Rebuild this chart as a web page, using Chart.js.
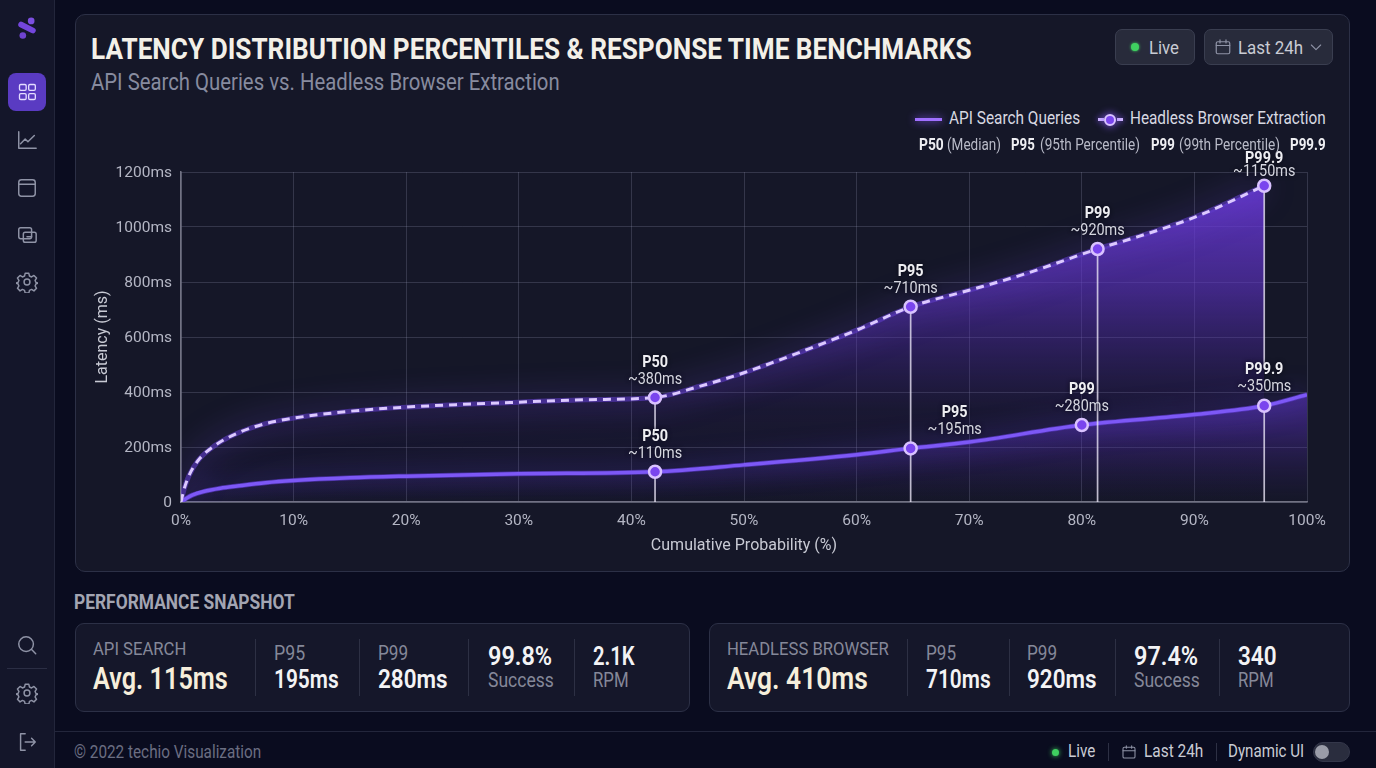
<!DOCTYPE html>
<html>
<head>
<meta charset="utf-8">
<title>Latency Distribution</title>
<script src="https://cdn.jsdelivr.net/npm/chart.js@4"></script>
<style>
  html, body { margin: 0; width: 1376px; height: 768px; overflow: hidden; background: #0a0c1f; font-family: Roboto, sans-serif; }
  .box { position: absolute; box-sizing: border-box; }
  .t { position: absolute; white-space: nowrap; transform-origin: 0 50%; line-height: 1; }
  svg.i { position: absolute; fill: none; stroke: #8f93a6; stroke-width: 1.6; stroke-linecap: round; stroke-linejoin: round; }
  #sidebar { left: 0; top: 0; width: 55px; height: 768px; background: #14162a; border-right: 1px solid #23263b; }
  #panel { left: 75px; top: 14px; width: 1275px; height: 558px; background: #151728; border: 1px solid #2c3046; border-radius: 10px; }
  .card { top: 623px; height: 89px; background: #15172a; border: 1px solid #2c3046; border-radius: 9px; }
  .btn { top: 29px; height: 36px; background: #282b3b; border: 1px solid #3a3e50; border-radius: 7px; }
  .rule { position: absolute; background: #2d3044; width: 1px; }
  #chart-wrap { position: absolute; left: 76px; top: 150px; width: 1272px; height: 420px; }
</style>
</head>
<body>
<div class="box" id="sidebar"></div>
<div class="box" id="panel"></div>
<div class="box card" style="left:75px;width:615px"></div>
<div class="box card" style="left:709px;width:641px"></div>
<div class="box btn" style="left:1115px;width:80px"></div>
<div class="box btn" style="left:1204px;width:129px"></div>
<div class="box" style="left:8px;top:73px;width:38px;height:38px;background:#5a3bc2;border-radius:8px"></div>
<div class="box" style="left:7px;top:668px;width:40px;height:1px;background:#2b2e44"></div>
<div class="box" style="left:55px;top:731px;width:1321px;height:1px;background:#23263b"></div>
<div id="chart-wrap"><canvas id="latency-chart" width="1272" height="420"></canvas></div>
<div id="overlay"></div>

<script>
"use strict";

// percentile curves, x in cumulative %, y in ms
const apiX = [0, 0.5, 1, 2, 3.5, 5, 7.5, 10, 15, 20, 30, 42.1, 50, 60, 64.8, 70, 80, 90, 96.2, 100];
const apiY = [0, 14, 25, 38, 50, 58, 70, 78, 88, 94, 103, 110, 135, 172, 195, 218, 280, 318, 350, 390];
const headlessX = [0, 0.3, 0.7, 1.5, 3, 5, 7.5, 10, 15, 20, 25, 30, 36, 42.1, 46, 50, 55, 60, 64.8, 70, 75, 81.4, 85, 90, 96.2];
const headlessY = [0, 50, 95, 150, 205, 250, 285, 305, 330, 345, 355, 363, 372, 380, 420, 470, 545, 625, 710, 770, 830, 920, 965, 1035, 1150];

// labelled percentile marks
const apiMarkX = [42.1, 64.8, 80, 96.2];
const apiMarkY = [110, 195, 280, 350];
const apiMarkNames = ["P50", "P95", "P99", "P99.9"];
const headlessMarkX = [42.1, 64.8, 81.4, 96.2];
const headlessMarkY = [380, 710, 920, 1150];
const headlessMarkNames = ["P50", "P95", "P99", "P99.9"];

// vertical drop lines: x, from ms, to ms
const stemX = [42.1, 42.1, 64.8, 81.4, 96.2, 96.2];
const stemFrom = [0, 265, 0, 0, 0, 500];
const stemTo = [110, 380, 710, 920, 350, 1150];

const xTickValues = [0, 10, 20, 30, 40, 50, 60, 70, 80, 90, 100];
const yTickValues = [0, 200, 400, 600, 800, 1000, 1200];

const pts = (xs, ys) => xs.map((x, i) => ({ x, y: ys[i] }));

const overlay = document.getElementById("overlay");

// absolutely placed text, squeezed to a given width when one is passed
function put(x, y, text, size, color, weight, width) {
  const s = document.createElement("span");
  s.className = "t";
  s.textContent = text;
  s.style.cssText = `left:${x}px;top:${y}px;font-size:${size}px;color:${color};font-weight:${weight || 400}`;
  overlay.appendChild(s);
  const k = width ? width / s.offsetWidth : 1;
  s.style.transform = `translateY(-50%) scaleX(${k})`;
}

function icon(x, y, size, body, extra) {
  overlay.insertAdjacentHTML("beforeend",
    `<svg class="i" style="left:${x}px;top:${y}px;${extra || ""}" width="${size}" height="${size}" viewBox="0 0 24 24">${body}</svg>`);
}
function rule(x, y, h) {
  overlay.insertAdjacentHTML("beforeend", `<div class="rule" style="left:${x}px;top:${y}px;height:${h}px"></div>`);
}
function dot(x, y, r, color, glow) {
  overlay.insertAdjacentHTML("beforeend",
    `<div style="position:absolute;left:${x - r}px;top:${y - r}px;width:${2 * r}px;height:${2 * r}px;border-radius:50%;background:${color};box-shadow:0 0 ${glow}px ${color}"></div>`);
}

const calendar = '<rect x="3" y="5" width="18" height="16" rx="2"/><path d="M3 10h18M8 2.5v4M16 2.5v4"/>';
const gear = '<circle cx="12" cy="12" r="3.2"/><path d="M10 2.5h4l.7 3 2.3 1 2.6-1.6 2.8 2.8-1.6 2.6 1 2.3 3 .7v0l-3 .7-1 2.3 1.6 2.6-2.8 2.8-2.6-1.6-2.3 1-.7 3h-4l-.7-3-2.3-1-2.6 1.6-2.8-2.8 1.6-2.6-1-2.3-3-.7v-0l3-.7 1-2.3-1.6-2.6 2.8-2.8 2.6 1.6 2.3-1z"/>';

// sidebar
overlay.insertAdjacentHTML("beforeend",
  `<svg style="position:absolute;left:17px;top:15px" width="20" height="26" viewBox="0 0 24 28">
     <circle cx="17" cy="5.5" r="4" fill="#7c4fe0"/><circle cx="7" cy="23" r="4" fill="#6f43d0"/>
     <path d="M5 10 L19 17" stroke="#7446dc" stroke-width="7" stroke-linecap="round"/></svg>`);
icon(17, 82, 20, '<rect x="3" y="3" width="8" height="7" rx="1.5"/><rect x="14" y="3" width="8" height="7" rx="1.5"/><rect x="3" y="14" width="8" height="7" rx="1.5"/><rect x="14" y="14" width="8" height="7" rx="1.5"/>', "stroke:#e4dcff;");
icon(16, 129, 22, '<path d="M3 3v18h19M5 16l5-5 3 3 7-7"/>');
icon(16, 177, 22, '<rect x="3" y="3" width="18" height="18" rx="3"/><path d="M3 8h18"/>');
icon(16, 224, 22, '<rect x="3" y="4" width="14" height="12" rx="2"/><rect x="8" y="9" width="14" height="11" rx="2"/><path d="M12 14h5"/>');
icon(16, 271, 22, gear);
icon(16, 634, 22, '<circle cx="11" cy="11" r="8"/><path d="M17 17l4.5 4.5"/>');
icon(16, 682, 22, gear);
icon(16, 731, 22, '<path d="M10 3H5v18h5M10 12h11M17 8l4 4-4 4"/>');

// header
put(91, 49, "LATENCY DISTRIBUTION PERCENTILES & RESPONSE TIME BENCHMARKS", 30, "#f3f0e8", 700, 881);
put(91, 82, "API Search Queries vs. Headless Browser Extraction", 24, "#878b9f", 400, 469);
dot(1135, 47, 4, "#3fd060", 3);
put(1149, 47, "Live", 19, "#c9cbd4", 400, 30);
icon(1214, 38, 18, calendar);
put(1238, 47, "Last 24h", 19, "#c9cbd4", 400, 65);
icon(1308, 39, 16, '<path d="M5 9l7 7 7-7"/>');

// legend
overlay.insertAdjacentHTML("beforeend", `
  <div style="position:absolute;left:915px;top:117.5px;width:27px;height:3px;background:#a070ff;box-shadow:0 0 8px #8a5cff"></div>
  <div style="position:absolute;left:1098px;top:118px;width:6px;height:3px;background:#cfb6ff;box-shadow:0 0 6px #8a5cff"></div>
  <div style="position:absolute;left:1117px;top:118px;width:6px;height:3px;background:#cfb6ff;box-shadow:0 0 6px #8a5cff"></div>
  <div style="position:absolute;left:1104px;top:113.5px;width:8px;height:8px;border-radius:50%;background:#7a45ee;border:2px solid #d9c2ff;box-shadow:0 0 8px #8a5cff"></div>`);
put(949, 119, "API Search Queries", 17.5, "#d8d9e2", 400, 131);
put(1130, 119, "Headless Browser Extraction", 17.5, "#d8d9e2", 400, 196);
put(919, 144.5, "P50", 16, "#eeeef2", 700, 25);
put(947, 144.5, "(Median)", 16, "#b9bbc8", 400, 54);
put(1011, 144.5, "P95", 16, "#eeeef2", 700, 24);
put(1040, 144.5, "(95th Percentile)", 16, "#b9bbc8", 400, 100);
put(1151, 144.5, "P99", 16, "#eeeef2", 700, 24);
put(1179, 144.5, "(99th Percentile)", 16, "#b9bbc8", 400, 101);
put(1290, 144.5, "P99.9", 16, "#eeeef2", 700, 36);

// snapshot cards
put(74, 602, "PERFORMANCE SNAPSHOT", 21, "#a3a5b2", 700, 221);
function card(x0, name, nameW, avg, avgW, dividers, cols) {
  put(x0, 648, name, 19, "#858899", 400, nameW);
  put(x0, 678, avg, 32, "#f6eedb", 600, avgW);
  dividers.forEach(d => rule(d, 639, 57));
  cols.forEach(c => {
    if (c.top) {
      put(c.x, 653, c.top, 20, "#858899", 400, c.topW);
      put(c.x, 679, c.main, 26, "#f3f3f5", 600, c.mainW);
    } else {
      put(c.x, 656, c.main, 26, "#f3f3f5", 600, c.mainW);
      put(c.x, 680, c.sub, 21, "#858899", 400, c.subW);
    }
  });
}
card(93, "API SEARCH", 93, "Avg. 115ms", 135, [255, 359, 468, 574], [
  { x: 274, top: "P95", topW: 31, main: "195ms", mainW: 65 },
  { x: 378, top: "P99", topW: 30, main: "280ms", mainW: 70 },
  { x: 488, main: "99.8%", mainW: 64, sub: "Success", subW: 66 },
  { x: 593, main: "2.1K", mainW: 42, sub: "RPM", subW: 36 },
]);
card(727, "HEADLESS BROWSER", 162, "Avg. 410ms", 141, [907, 1009, 1115, 1219], [
  { x: 926, top: "P95", topW: 30, main: "710ms", mainW: 65 },
  { x: 1027, top: "P99", topW: 30, main: "920ms", mainW: 70 },
  { x: 1134, main: "97.4%", mainW: 64, sub: "Success", subW: 66 },
  { x: 1238, main: "340", mainW: 39, sub: "RPM", subW: 36 },
]);

// footer
put(74, 752, "© 2022 techio Visualization", 18, "#6b6e82", 400, 187);
dot(1055, 752, 3.5, "#3fd060", 5);
put(1068, 752, "Live", 17.5, "#c9cbd4", 400, 27);
rule(1108, 743, 18);
icon(1121, 744, 16, calendar);
put(1144, 752, "Last 24h", 17.5, "#c9cbd4", 400, 59);
rule(1216, 743, 18);
put(1228, 752, "Dynamic UI", 17.5, "#c9cbd4", 400, 76);
overlay.insertAdjacentHTML("beforeend", `
  <div style="position:absolute;left:1313px;top:742px;width:37px;height:20px;border-radius:10px;background:#2a2d3e;border:1px solid #34374a;box-sizing:border-box"></div>
  <div style="position:absolute;left:1315px;top:745px;width:14px;height:14px;border-radius:50%;background:#9a9ca8"></div>`);

// fills fade with height on the canvas
function fadeFill(stops) {
  return (c) => {
    const area = c.chart.chartArea;
    if (!area) return "transparent";
    const g = c.chart.ctx.createLinearGradient(0, area.top, 0, area.bottom);
    stops.forEach(([at, color]) => g.addColorStop(at, color));
    return g;
  };
}

const glowPlugin = {
  id: "glow",
  beforeDatasetDraw(chart, args) {
    const ds = chart.data.datasets[args.index];
    if (!ds.glowColor) return;
    chart.ctx.save();
    chart.ctx.shadowColor = ds.glowColor;
    chart.ctx.shadowBlur = ds.glowBlur;
  },
  afterDatasetDraw(chart, args) {
    if (chart.data.datasets[args.index].glowColor) chart.ctx.restore();
  },
};

// two-line labels above the percentile marks; [dx, dy of name line, line gap] per mark
const apiLabelShift = [[0, -35, 17], [44, -35, 17], [0, -35, 17], [0, -36, 17]];
const headlessLabelShift = [[0, -35, 17], [0, -35, 17], [0, -35, 17], [0, -27, 13]];

function drawLabels(chart, xs, ys, names, shifts) {
  const { ctx, scales } = chart;
  xs.forEach((x, i) => {
    const px = scales.x.getPixelForValue(x) + shifts[i][0];
    const py = scales.y.getPixelForValue(ys[i]) + shifts[i][1];
    ctx.save();
    ctx.textAlign = "center";
    ctx.textBaseline = "middle";
    ctx.shadowColor = "rgba(8,8,20,.9)";
    ctx.shadowBlur = 4;
    ctx.translate(px, py);
    ctx.scale(0.9, 1);
    ctx.fillStyle = "#eeeef2";
    ctx.font = "700 16px Roboto";
    ctx.fillText(names[i], 0, 0);
    ctx.fillStyle = "#d6d7e0";
    ctx.font = "400 16px Roboto";
    ctx.fillText("~" + ys[i] + "ms", 0, shifts[i][2]);
    ctx.restore();
  });
}

const labelPlugin = {
  id: "markLabels",
  afterDatasetsDraw(chart) {
    drawLabels(chart, apiMarkX, apiMarkY, apiMarkNames, apiLabelShift);
    drawLabels(chart, headlessMarkX, headlessMarkY, headlessMarkNames, headlessLabelShift);
  },
};

const lineBase = { parsing: false, pointRadius: 0, pointHoverRadius: 0, cubicInterpolationMode: "monotone" };
const markBase = {
  parsing: false, showLine: false, clip: false, order: 0,
  pointRadius: 6, pointHoverRadius: 6, pointBorderWidth: 2.5,
  pointBackgroundColor: "#7a45ee", pointBorderColor: "#d9c2ff",
};

const stems = stemX.map((x, i) => ({
  label: "stem", parsing: false, pointRadius: 0, order: 1,
  data: [{ x, y: stemFrom[i] }, { x, y: stemTo[i] }],
  borderColor: "rgba(232,228,245,.8)", borderWidth: 1.7,
}));

const gridColor = "rgba(165,170,195,.22)";
const tickFont = { family: "Roboto, sans-serif", size: 15.5 };

new Chart(document.getElementById("latency-chart"), {
  type: "line",
  plugins: [glowPlugin, labelPlugin],
  data: {
    datasets: [
      { ...lineBase, label: "Headless Browser Extraction fill", data: pts(headlessX, headlessY), order: 5,
        borderWidth: 0, borderColor: "transparent", fill: "origin",
        backgroundColor: fadeFill([[0, "rgba(110,60,225,.88)"], [0.36, "rgba(96,52,200,.58)"], [0.55, "rgba(84,44,180,.32)"], [0.72, "rgba(70,36,150,.1)"], [1, "rgba(60,30,130,0)"]]) },
      { ...lineBase, label: "API Search Queries fill", data: pts(apiX, apiY), order: 4,
        borderWidth: 0, borderColor: "transparent", fill: "origin",
        backgroundColor: fadeFill([[0.62, "rgba(104,60,220,.62)"], [0.78, "rgba(92,50,195,.38)"], [1, "rgba(60,30,130,0)"]]) },
      { ...lineBase, label: "Headless glow", data: pts(headlessX, headlessY), order: 3,
        borderColor: "rgba(95,60,200,.6)", borderWidth: 5, glowColor: "rgba(130,80,255,1)", glowBlur: 30 },
      { ...lineBase, label: "API glow", data: pts(apiX, apiY), order: 3,
        borderColor: "rgba(95,60,210,.6)", borderWidth: 5, glowColor: "rgba(110,70,255,1)", glowBlur: 26 },
      ...stems,
      { ...lineBase, label: "Headless Browser Extraction", data: pts(headlessX, headlessY), order: 1,
        borderColor: "#dcc9ff", borderWidth: 3, borderDash: [8, 6] },
      { ...lineBase, label: "API Search Queries", data: pts(apiX, apiY), order: 1,
        borderColor: "#7d58f6", borderWidth: 3.5 },
      { ...markBase, label: "Headless marks", data: pts(headlessMarkX, headlessMarkY) },
      { ...markBase, label: "API marks", data: pts(apiMarkX, apiMarkY) },
    ],
  },
  options: {
    responsive: false,
    animation: false,
    events: [],
    layout: { padding: { top: 22, right: 41, left: 0, bottom: 0 } },
    plugins: { legend: { display: false }, tooltip: { enabled: false } },
    scales: {
      x: {
        type: "linear", min: 0, max: 100,
        afterFit: (s) => { s.height = 68; },
        afterBuildTicks: (s) => { s.ticks = xTickValues.map(value => ({ value })); },
        grid: { color: gridColor, drawTicks: false },
        border: { color: "rgba(190,190,205,.55)", width: 1.5 },
        ticks: { color: "#b4b6c4", font: tickFont, padding: 10, maxRotation: 0, autoSkip: false, callback: v => v + "%" },
        title: { display: true, text: "Cumulative Probability (%)", color: "#c8cad4", font: { family: "Roboto, sans-serif", size: 16 }, padding: { top: 0, bottom: 14 } },
      },
      y: {
        min: 0, max: 1200,
        afterFit: (s) => { s.width = 105; },
        afterBuildTicks: (s) => { s.ticks = yTickValues.map(value => ({ value })); },
        grid: { color: gridColor, drawTicks: false },
        border: { color: "rgba(190,190,205,.55)", width: 1.5 },
        ticks: { color: "#b4b6c4", font: tickFont, padding: 9, labelOffset: 1, autoSkip: false, callback: v => v === 0 ? "0" : v + "ms" },
        title: { display: true, text: "Latency (ms)", color: "#c8cad4", font: { family: "Roboto, sans-serif", size: 16 }, padding: { top: 17, bottom: 0 } },
      },
    },
  },
});
</script>
</body>
</html>
